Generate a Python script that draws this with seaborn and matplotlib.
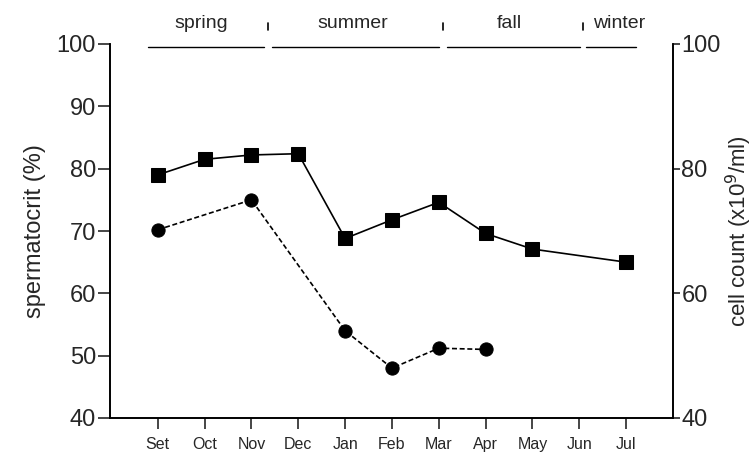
import matplotlib
matplotlib.use('Agg')
import matplotlib.pyplot as plt
import seaborn as sns
import pandas as pd
import numpy as np

# --- Data ---
months = ['Set', 'Oct', 'Nov', 'Dec', 'Jan', 'Feb', 'Mar', 'Apr', 'May', 'Jun', 'Jul']
spermatocrit = [70.2, np.nan, 75.0, np.nan, 54.0, 48.0, 51.2, 51.0, np.nan, np.nan, np.nan]
cell_count = [79.0, 81.5, 82.2, 82.4, 68.8, 71.8, 74.6, 69.6, 67.1, np.nan, 65.0]

seasons = ['spring', 'summer', 'fall', 'winter']
season_spans = [(-0.21, 2.26), (2.44, 6.0), (6.18, 9.02), (9.15, 10.21)]
season_label_x = [0.92, 4.17, 7.5, 9.85]
season_marks = [2.35, 6.09, 9.08]

# --- Styling ---
sns.set_style('ticks')
plt.rcParams['font.family'] = ['Liberation Sans', 'DejaVu Sans']

df = pd.DataFrame({'x': np.arange(len(months)), 'sperm': spermatocrit, 'cells': cell_count})

fig = plt.figure(figsize=(7.53, 4.62), dpi=100)
ax = fig.add_axes([110 / 753, 1 - 418 / 462, 563 / 753, 374 / 462])
ax2 = ax.twinx()

sns.lineplot(data=df.dropna(subset=['sperm']), x='x', y='sperm', ax=ax, color='black',
             linestyle=(0, (3, 1.6)), linewidth=1.2, marker='o', markersize=9.5,
             markeredgecolor='black')
sns.lineplot(data=df.dropna(subset=['cells']), x='x', y='cells', ax=ax2, color='black',
             linewidth=1.2, marker='s', markersize=10.5, markeredgecolor='black')

for a in (ax, ax2):
    a.set_xlim(-1.02, 11.0)
    a.set_ylim(40, 100)
    a.spines['top'].set_visible(False)
    for s in a.spines.values():
        s.set_linewidth(1.2)
        s.set_color('black')

ax.set_xticks(range(len(months)))
ax.set_xticklabels(months, fontsize=11.5)
ax.set_yticks(range(40, 101, 10))
ax.tick_params(axis='y', length=9, width=1.2, labelsize=17, direction='out', pad=1)
ax.tick_params(axis='x', length=8, width=1.2, direction='out', pad=6)
ax.set_xlabel('')
ax.set_ylabel('spermatocrit (%)', fontsize=17, labelpad=8)

ax2.set_yticks([40, 60, 80, 100])
ax2.tick_params(axis='y', length=5, width=1.2, labelsize=17, direction='out', pad=1)
ax2.set_ylabel('cell count (x10$^{9}$/ml)', fontsize=16, labelpad=2)
ax2.set_xlabel('')

# season bars above the plot
for (x0, x1) in season_spans:
    ax.plot([x0, x1], [99.5, 99.5], color='black', linewidth=1.0, clip_on=False)
for name, xc in zip(seasons, season_label_x):
    ax.text(xc, 102.55, name, ha='center', va='baseline', fontsize=14)
for xm in season_marks:
    ax.plot([xm, xm], [102.2, 103.4], color='black', linewidth=1.2, clip_on=False)

fig.savefig('out.png', dpi=100)
